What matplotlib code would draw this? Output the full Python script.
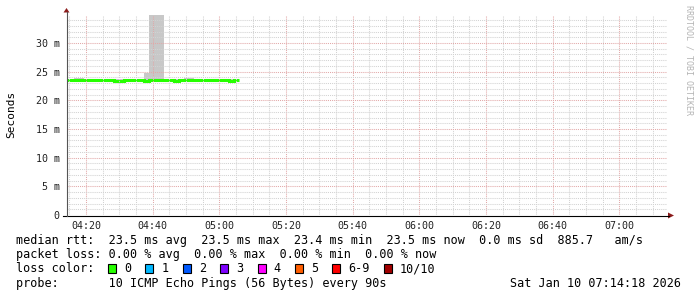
import matplotlib
matplotlib.use("Agg")
import matplotlib.pyplot as plt
import numpy as np
from matplotlib.patches import Rectangle, Polygon
from matplotlib.ticker import MultipleLocator, FuncFormatter

W, H = 697, 297

# samples: every 90 s starting 04:13:24 (minutes after 04:00)
t_start = 13.4
step_min = 1.5
median_rtt = [23.5, 23.5, 23.5, 23.5, 23.5, 23.5, 23.5, 23.5, 23.5, 23.5,
              23.4, 23.4, 23.5, 23.5, 23.5, 23.5, 23.4, 23.5, 23.5, 23.5,
              23.5, 23.5, 23.4, 23.5, 23.5, 23.5, 23.5, 23.5, 23.5, 23.5,
              23.5, 23.5, 23.5, 23.4, 23.5]
smoke_lo = [23.3, 23.3, 23.8, 23.8, 23.3, 23.3, 23.3, 23.3, 23.3, 23.3,
            23.3, 23.3, 23.3, 23.3, 23.3, 23.3, 23.6, 23.5, 23.5, 23.5,
            23.3, 23.3, 23.3, 23.3, 23.8, 23.8, 23.3, 23.3, 23.3, 23.3,
            23.3, 23.3, 23.3, 23.3, 23.3]
smoke_hi = [23.7, 23.7, 23.95, 23.95, 23.7, 23.7, 23.7, 23.7, 23.7, 23.7,
            23.7, 23.7, 23.7, 23.7, 23.7, 23.7, 24.7, 34.9, 34.9, 34.9,
            23.7, 23.7, 23.7, 23.7, 23.95, 23.95, 23.7, 23.7, 23.7, 23.7,
            23.7, 23.7, 23.7, 23.7, 23.7]

x_range = (14.3, 194.3)   # 04:14:18 .. 07:14:18
y_range = (0, 34.88)

loss_labels = ["0", "1", "2", "3", "4", "5", "6-9", "10/10"]
loss_colors = ["#26ff00", "#00b8ff", "#0059ff", "#7e00ff", "#ff00ff",
               "#ff5e00", "#ff0000", "#a10000"]

line_rtt = "median rtt:  23.5 ms avg  23.5 ms max  23.4 ms min  23.5 ms now  0.0 ms sd  885.7   am/s"
line_loss = "packet loss: 0.00 % avg  0.00 % max  0.00 % min  0.00 % now"
line_probe = "probe:       10 ICMP Echo Pings (56 Bytes) every 90s"
stamp = "Sat Jan 10 07:14:18 2026"

MONO = "DejaVu Sans Mono"


def P(x, y):
    return (x / W, 1 - y / H)


fig = plt.figure(figsize=(W / 100, H / 100), dpi=100)
fig.patch.set_facecolor("white")
ax = fig.add_axes([67 / W, (H - 215) / H, 600 / W, 200 / H])

edges = t_start + step_min * np.arange(len(median_rtt) + 1)
ax.stairs(smoke_hi, edges, baseline=smoke_lo, fill=True, color="#c8c8c8", lw=0)
med = ax.stairs(median_rtt, edges, baseline=None, color=loss_colors[0], lw=2.2)
med.set_joinstyle("miter")
med.set_capstyle("butt")

ax.set_xlim(*x_range)
ax.set_ylim(*y_range)

ax.xaxis.set_major_locator(MultipleLocator(20))
ax.xaxis.set_minor_locator(MultipleLocator(5))
ax.yaxis.set_major_locator(MultipleLocator(5))
ax.yaxis.set_minor_locator(MultipleLocator(1))
ax.xaxis.set_major_formatter(FuncFormatter(lambda v, p: "%02d:%02d" % (int(v // 60) + 4, int(round(v % 60)))))
ax.yaxis.set_major_formatter(FuncFormatter(lambda v, p: "0" if v == 0 else "%d m" % v))

ax.grid(which="minor", color="#d2d2d2", ls=(0, (1, 1)), lw=0.75)
ax.grid(which="major", color="#e2a8a8", ls=(0, (1, 1)), lw=0.75)
ax.set_axisbelow(False)

ax.tick_params(which="both", length=0)
ax.tick_params(axis="y", pad=5.2, labelsize=7.2, labelcolor="#222222")
ax.tick_params(axis="x", pad=4.0, labelsize=7.2, labelcolor="#222222")
for lab in ax.get_xticklabels() + ax.get_yticklabels():
    lab.set_family(MONO)
for s in ax.spines.values():
    s.set_visible(False)

# axes with arrows
fig.add_artist(plt.Line2D([P(63, 0)[0], P(669, 0)[0]], [P(0, 215.5)[1]] * 2,
                          transform=fig.transFigure, color="black", lw=0.8))
fig.add_artist(plt.Line2D([P(66.5, 0)[0]] * 2, [P(0, 216)[1], P(0, 12)[1]],
                          transform=fig.transFigure, color="#555555", lw=0.8))
fig.add_artist(Polygon([P(63.5, 12.5), P(69.5, 12.5), P(66.5, 8)], closed=True,
                       transform=fig.transFigure, color="#8c1c1c", lw=0))
fig.add_artist(Polygon([P(668, 212.5), P(668, 218.5), P(674, 215.5)], closed=True,
                       transform=fig.transFigure, color="#8c1c1c", lw=0))

fig.text(*P(11, 114), "Seconds", rotation=90, ha="center", va="center",
         family=MONO, fontsize=8, color="black")
fig.text(*P(688.5, 5), "RRDTOOL / TOBI OETIKER", rotation=270, ha="center", va="top",
         family=MONO, fontsize=6, color="#b4b4b4")

fs = 8.5
cw = 7.13
fig.text(*P(16, 244), line_rtt, family=MONO, fontsize=fs, va="baseline")
fig.text(*P(16, 258.3), line_loss, family=MONO, fontsize=fs, va="baseline")
fig.text(*P(16, 272.5), "loss color:", family=MONO, fontsize=fs, va="baseline")
fig.text(*P(16, 286.7), line_probe, family=MONO, fontsize=fs, va="baseline")
fig.text(*P(681, 286.7), stamp, family=MONO, fontsize=fs, va="baseline", ha="right")

x = 108
for lab, col in zip(loss_labels, loss_colors):
    x0, y0 = P(x, 273)
    fig.add_artist(Rectangle((x0, y0), 8 / W, 9 / H, transform=fig.transFigure,
                             facecolor=col, edgecolor="black", lw=0.8))
    fig.text(*P(x + 16, 272.5), lab, family=MONO, fontsize=fs, va="baseline")
    x += 16 + (len(lab) + 2) * cw

fig.savefig("out.png", dpi=100)
